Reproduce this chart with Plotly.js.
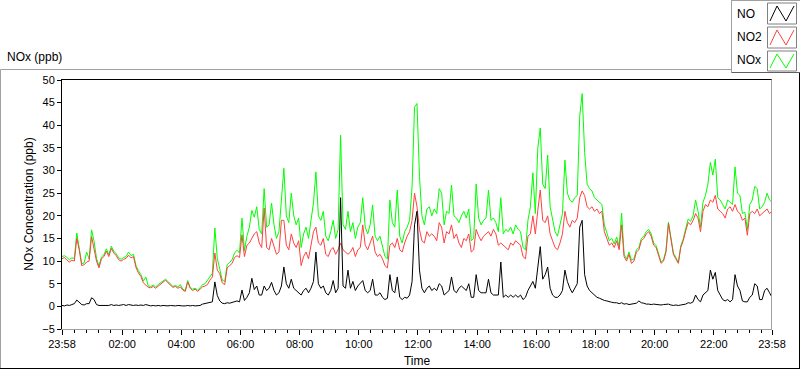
<!DOCTYPE html>
<html>
<head>
<meta charset="utf-8">
<script src="https://cdn.plot.ly/plotly-3.0.1.min.js"></script>
<style>html,body{margin:0;padding:0;background:#fff;}#chart{width:800px;height:369px;}</style>
</head>
<body>
<div id="chart"></div>
<script>
// Time axis: minutes after the 23:58 start, one sample every 5 minutes
const startMinute = 0;
const stepMinutes = 5;
const tickMinutes = [0, 122, 242, 362, 482, 602, 722, 842, 962, 1082, 1202, 1322, 1440];
const tickLabels = ["23:58", "02:00", "04:00", "06:00", "08:00", "10:00", "12:00", "14:00", "16:00", "18:00", "20:00", "22:00", "23:58"];
const yTicks = [-5, 0, 5, 10, 15, 20, 25, 30, 35, 40, 45, 50];
const seriesNames = ["NO", "NO2", "NOx"];

const no2 = [
10.5,10.8,10.2,9.8,10.2,10.0,15.0,12.5,9.0,9.2,9.8,10.0,
15.4,12.5,10.0,8.5,10.5,11.0,12.2,11.0,12.8,11.8,11.2,10.3,
10.0,10.4,10.6,11.3,10.7,11.0,8.6,7.4,6.6,5.2,4.6,4.2,
4.1,4.4,4.0,4.5,5.0,5.4,5.8,5.2,4.6,4.2,4.4,4.0,
4.3,3.6,3.3,5.4,4.0,3.5,3.8,3.3,3.8,4.3,4.5,4.8,
5.8,6.5,11.8,8.0,7.2,5.2,4.8,8.5,9.0,9.5,10.8,11.2,
10.8,15.8,11.0,13.5,14.0,15.0,16.0,16.5,14.0,13.0,21.7,13.0,
12.5,15.0,13.0,11.5,12.0,19.0,19.0,13.5,12.5,16.0,14.0,13.0,
14.5,9.0,11.0,12.0,10.5,14.0,16.5,17.5,14.0,13.5,15.0,11.5,
11.0,12.5,13.0,11.5,12.5,14.0,12.5,12.0,11.5,12.0,13.0,11.0,
12.5,13.0,18.0,13.5,12.5,14.0,15.5,12.0,11.0,11.5,10.5,9.0,
8.5,13.5,14.0,13.0,15.0,12.5,12.0,14.0,15.5,16.5,19.0,25.0,
22.0,17.0,14.5,14.0,16.5,15.5,16.0,15.5,14.5,18.5,17.5,14.0,
16.5,16.0,18.0,15.0,16.0,14.0,13.0,15.0,14.5,16.0,12.0,12.5,
17.0,15.5,14.5,15.5,16.0,16.5,15.5,17.0,16.0,13.5,14.0,13.5,
13.0,12.5,14.0,13.5,14.5,14.0,13.5,11.0,10.5,15.5,16.0,20.0,
16.0,21.2,25.7,19.0,18.5,20.0,16.0,14.5,13.0,12.5,14.0,16.0,
21.0,18.5,17.5,19.0,18.5,19.5,24.0,25.5,24.5,22.0,21.5,22.0,
21.0,21.5,20.5,21.0,16.5,15.0,13.5,14.0,13.0,14.5,12.5,18.0,
11.0,10.0,11.5,9.5,10.0,12.0,12.5,14.5,15.0,16.0,16.5,15.5,
13.5,13.0,11.0,9.5,10.0,12.0,18.3,15.0,11.5,10.5,9.5,13.0,
14.5,16.7,18.5,18.0,19.0,20.5,19.5,16.5,21.0,22.5,22.0,23.5,
23.0,24.5,21.5,21.0,20.5,19.5,21.5,22.0,21.0,22.5,21.0,20.5,
19.0,19.5,15.7,20.5,21.0,20.5,21.5,20.0,20.5,21.0,21.5,20.5,
21.0];

const nox = [
11.0,11.2,10.8,10.3,10.7,10.6,16.2,13.2,9.4,9.6,12.0,10.5,
16.9,14.4,10.6,8.9,10.9,11.4,12.7,11.4,13.3,12.2,11.6,10.7,
10.4,10.8,11.0,12.0,11.2,11.5,9.0,7.9,7.0,5.6,6.5,4.5,
4.4,4.7,4.3,4.8,5.3,5.6,6.0,5.5,4.8,4.4,4.6,4.3,
4.8,3.8,3.5,5.7,4.2,3.8,4.0,3.6,4.1,4.8,5.0,5.8,
6.5,7.3,17.3,10.6,8.2,5.8,5.5,9.2,9.7,10.3,11.8,12.4,
11.8,19.5,12.3,15.5,17.5,21.2,19.7,22.0,17.0,16.0,26.0,17.5,
18.0,22.8,18.0,15.0,16.5,23.7,30.5,20.0,18.5,25.0,20.0,18.0,
19.5,13.0,16.0,17.5,15.0,19.0,22.8,29.7,20.0,19.0,21.0,15.5,
14.5,16.5,19.0,15.0,17.0,37.8,18.0,17.0,21.0,16.5,18.5,15.0,
17.5,18.5,24.0,17.5,16.0,18.0,22.4,15.5,14.5,15.5,13.0,11.0,
10.5,23.5,18.5,17.5,25.7,15.5,14.0,16.5,17.5,19.0,26.4,44.0,
44.8,28.7,20.0,18.0,21.5,22.0,20.0,21.5,20.5,26.0,25.0,18.0,
21.0,20.5,26.8,20.0,19.5,18.5,20.0,21.0,19.5,21.5,14.5,15.0,
27.0,19.5,18.0,19.0,19.5,25.7,19.0,19.5,18.5,16.5,24.0,16.0,
17.0,16.5,17.5,16.0,18.0,17.0,16.5,13.0,12.5,19.0,22.0,29.5,
20.5,35.0,39.4,27.0,26.0,33.4,22.0,19.0,16.5,15.5,18.0,20.5,
32.3,25.0,23.5,23.0,24.0,24.5,42.0,47.0,34.0,27.0,26.0,25.5,
24.0,23.5,23.0,22.5,18.0,16.0,14.5,15.0,13.8,15.3,13.2,20.6,
11.5,10.5,12.0,10.2,10.5,12.5,13.0,15.0,15.5,16.5,17.0,16.0,
14.0,13.4,11.4,9.8,10.3,12.4,18.6,15.3,11.8,10.8,9.7,13.4,
14.9,17.2,19.3,18.8,20.0,23.5,21.0,17.5,23.0,24.5,27.0,31.8,
29.0,32.5,24.0,23.5,22.5,21.5,23.5,23.0,22.5,30.8,25.0,24.5,
20.5,20.8,17.0,22.5,23.5,26.5,26.0,21.5,22.0,23.0,25.0,23.5,
23.0];

const no = [
0.2,0.1,0.3,0.2,0.4,0.6,1.4,0.9,0.4,0.3,0.6,0.6,
1.9,1.5,0.4,0.2,0.2,0.2,0.3,0.2,0.4,0.2,0.3,0.2,
0.3,0.4,0.2,0.4,0.3,0.2,0.3,0.2,0.3,0.2,0.4,0.2,
0.1,0.2,0.1,0.2,0.1,0.2,0.1,0.1,0.2,0.1,0.1,0.2,
0.1,0.1,0.1,0.2,0.1,0.2,0.1,0.2,0.2,0.5,0.6,0.7,
0.8,1.0,5.4,2.4,1.2,0.7,0.6,0.8,0.7,0.9,1.0,1.2,
1.0,3.6,1.3,2.0,3.0,6.2,3.7,4.5,2.5,2.5,4.5,3.5,
4.0,5.3,3.5,2.5,3.0,4.5,8.7,5.0,4.0,6.0,4.0,3.5,
3.0,2.5,3.5,4.0,3.0,4.0,5.5,12.0,5.0,4.0,4.5,3.0,
2.5,3.5,5.7,3.0,4.0,24.0,4.5,4.0,8.0,4.0,5.5,3.5,
4.5,5.0,5.7,3.5,3.0,3.5,6.0,2.5,2.5,3.0,2.0,1.5,
1.8,7.0,3.5,3.0,6.5,2.0,1.5,2.0,1.8,2.5,5.5,18.0,
21.0,8.0,4.0,3.0,4.0,4.5,3.5,4.0,3.5,5.0,4.5,2.5,
3.0,3.5,6.5,3.5,3.0,4.0,4.5,4.0,3.5,5.0,2.0,2.0,
7.0,3.5,3.0,3.0,3.0,6.0,3.0,2.5,2.5,2.5,9.8,2.0,
2.5,2.0,2.5,2.0,2.5,2.0,2.5,1.5,2.0,3.5,4.5,5.5,
4.0,8.0,13.2,6.0,7.0,8.7,4.0,2.5,2.0,2.0,2.5,3.5,
8.0,5.5,4.0,3.0,4.0,5.0,17.5,19.0,7.0,4.5,3.5,3.0,
2.5,2.0,1.8,1.5,1.3,1.2,1.0,0.9,0.8,0.8,0.6,0.8,
0.5,0.6,0.4,0.5,0.6,0.7,1.2,0.8,0.7,0.5,0.5,0.4,
0.5,0.4,0.3,0.3,0.4,0.5,0.5,0.3,0.2,0.3,0.2,0.3,
0.4,0.5,0.8,0.7,1.0,2.5,1.5,1.0,2.5,3.0,3.5,8.0,
6.0,7.5,3.5,2.5,1.5,1.2,1.5,1.0,1.5,7.0,4.5,3.5,
1.2,1.0,1.0,2.0,2.5,5.0,4.5,1.5,1.5,3.5,4.0,3.0,
2.0];

const colors = {NO: "#000000", NO2: "#ff4040", NOx: "#00ff00"};
const FONT = "Liberation Sans, Arial, sans-serif";

// pixel geometry of the plot box
const L = 62, R = 772, T = 79, B = 329;
const px = x => (x - L) / (R - L);
const py = y => (B - y) / (B - T);

function mkTrace(name, y) {
  return {type: "scatter", mode: "lines", name: name, x0: startMinute, dx: stepMinutes, y: y,
          line: {color: colors[name], width: 1, shape: "linear"}, hoverinfo: "skip", showlegend: false};
}
const data = [mkTrace("NOx", nox), mkTrace("NO2", no2), mkTrace("NO", no)];

function line(x0, y0, x1, y1, color) {
  return {type: "line", xref: "paper", yref: "paper", x0: px(x0), y0: py(y0), x1: px(x1), y1: py(y1),
          line: {color: color, width: 1}, layer: "above"};
}
const shapes = [
  // outer sunken frame
  line(0.5, 69.5, 731, 69.5, "#a0a0a0"),
  line(0.5, 69.5, 0.5, 368.5, "#a0a0a0"),
  line(799.5, 72, 799.5, 368.5, "#000000"),
  line(0, 368.5, 800, 368.5, "#000000"),
  // plot frame top / right
  line(62, 79.5, 772, 79.5, "#000000"),
  line(771.5, 79.5, 771.5, 329, "#a0a0a0"),
  // legend box
  line(731.5, 0, 731.5, 72.5, "#a0a0a0"),
  line(731.5, 72.5, 800, 72.5, "#606060"),
  line(731.5, 0.5, 800, 0.5, "#a0a0a0")
];
const legRows = [{n: "NO", y0: 3, y1: 24, ty: 14}, {n: "NO2", y0: 27, y1: 48, ty: 37}, {n: "NOx", y0: 51, y1: 71, ty: 60}];
const annotations = [];
legRows.forEach(r => {
  shapes.push({type: "rect", xref: "paper", yref: "paper", x0: px(767.5), x1: px(796.5), y0: py(r.y1), y1: py(r.y0),
               line: {color: "#808080", width: 1}, fillcolor: "#ffffff", layer: "above"});
  const xs = [770, 777, 786, 794], ys = [r.y1 - 3, r.y0 + 3, r.y1 - 3, r.y0 + 3];
  let p = "";
  for (let k = 0; k < 4; k++) p += (k ? " L " : "M ") + px(xs[k]) + "," + py(ys[k]);
  shapes.push({type: "path", xref: "paper", yref: "paper", path: p, line: {color: colors[r.n], width: 1}, layer: "above"});
  annotations.push({xref: "paper", yref: "paper", x: px(735), y: py(r.ty), xanchor: "left", yanchor: "middle",
                    text: r.n, showarrow: false, font: {family: FONT, size: 12, color: "#000"}});
});
annotations.push({xref: "paper", yref: "paper", x: px(5), y: py(57), xanchor: "left", yanchor: "middle",
                  text: "NOx (ppb)", showarrow: false, font: {family: FONT, size: 12, color: "#000"}});

const layout = {
  width: 800, height: 369,
  margin: {l: L, r: 800 - R, t: T, b: 369 - B, pad: 0},
  paper_bgcolor: "#ffffff", plot_bgcolor: "#ffffff",
  font: {family: FONT, size: 11, color: "#000"},
  showlegend: false,
  xaxis: {
    range: [0, 1440], tickmode: "array", tickvals: tickMinutes, ticktext: tickLabels,
    ticks: "outside", ticklen: 5, tickcolor: "#000", tickwidth: 1,
    minor: {tickmode: "linear", tick0: 26, dtick: 24, ticks: "outside", ticklen: 3, tickcolor: "#000", showgrid: false},
    showgrid: false, zeroline: false, showline: true, linecolor: "#a0a0a0", linewidth: 1,
    tickfont: {family: FONT, size: 11, color: "#000"},
    title: {text: "Time", font: {family: FONT, size: 12, color: "#000"}, standoff: 7},
    fixedrange: true
  },
  yaxis: {
    range: [-5, 50.22], tickmode: "array", tickvals: yTicks,
    ticks: "outside", ticklen: 4, tickcolor: "#000", tickwidth: 1,
    showgrid: false, zeroline: false, showline: true, linecolor: "#000", linewidth: 1,
    tickfont: {family: FONT, size: 11, color: "#000"},
    title: {text: "NOx Concentration (ppb)", font: {family: FONT, size: 12, color: "#000"}, standoff: 6},
    fixedrange: true
  },
  shapes: shapes,
  annotations: annotations
};

Plotly.newPlot("chart", data, layout, {staticPlot: true, displayModeBar: false});
</script>
</body>
</html>
